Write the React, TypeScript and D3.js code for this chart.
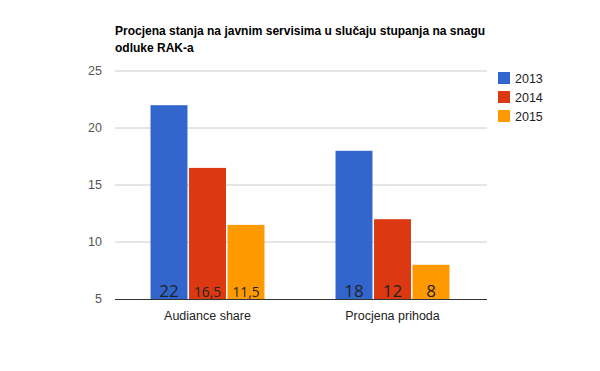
import React from 'react';
import * as d3 from 'd3';

const categories = ['Audiance share', 'Procjena prihoda'];
const years = ['2013', '2014', '2015'];
const values2013 = [22, 18];
const values2014 = [16.5, 12];
const values2015 = [11.5, 8];
const yTicks = [5, 10, 15, 20, 25];
const colors = ['#3366cc', '#dc3912', '#ff9900'];
const titleLines = [
  'Procjena stanja na javnim servisima u slučaju stupanja na snagu',
  'odluke RAK-a',
];

const width = 600;
const height = 371;
const plot = { left: 115, right: 485, top: 71, bottom: 299 };

const fmt = (v: number) => String(v).replace('.', ',');

const App: React.FC = () => {
  const series = [values2013, values2014, values2015];

  const x0 = d3.scaleBand<string>()
    .domain(categories)
    .range([plot.left, plot.right])
    .paddingInner(0.384)
    .paddingOuter(0.192);

  const x1 = d3.scaleBand<string>()
    .domain(years)
    .range([0, x0.bandwidth()])
    .paddingInner(0.04);

  const y = d3.scaleLinear().domain([5, 25]).range([plot.bottom, plot.top]);

  const font = 'Arial, "Liberation Sans", sans-serif';

  // labels shrink to fit the bar, like the original
  const labelSize = (s: string) => Math.min(17, (x1.bandwidth() - 4) / (s.length * 0.6));

  return (
    <svg width={width} height={height} style={{ display: 'block', position: 'absolute', left: 0, top: 0 }}>
      <rect width={width} height={height} fill="#fff" />

      {titleLines.map((t, i) => (
        <text key={i} x={plot.left} y={35 + i * 17} fontFamily={font} fontSize={12} fontWeight="bold" fill="#000">
          {t}
        </text>
      ))}

      {yTicks.map(t => (
        <g key={t}>
          {t !== 5 && (
            <line x1={plot.left} x2={plot.right + 2} y1={y(t)} y2={y(t)} stroke="#cccccc" strokeWidth={1} />
          )}
          <text x={102} y={y(t) + 4} textAnchor="end" fontFamily={font} fontSize={12.5} fill="#555">
            {t}
          </text>
        </g>
      ))}

      {categories.map((c, ci) => (
        <g key={c} transform={`translate(${x0(c)},0)`}>
          {years.map((yr, si) => {
            const v = series[si][ci];
            const bx = x1(yr)!;
            const label = fmt(v);
            return (
              <g key={yr}>
                <rect x={bx} y={y(v)} width={x1.bandwidth()} height={y(5) - y(v)} fill={colors[si]} />
                <text
                  x={bx + x1.bandwidth() / 2}
                  y={plot.bottom - 2}
                  textAnchor="middle"
                  fontFamily='"Open Sans", "DejaVu Sans", sans-serif'
                  fontSize={labelSize(label)}
                  fill="#222"
                >
                  {label}
                </text>
              </g>
            );
          })}
          <text
            x={x0.bandwidth() / 2}
            y={plot.bottom + 21}
            textAnchor="middle"
            fontFamily={font}
            fontSize={12.5}
            fill="#222"
          >
            {c}
          </text>
        </g>
      ))}

      <line x1={plot.left} x2={plot.right + 2} y1={plot.bottom + 0.5} y2={plot.bottom + 0.5} stroke="#333" strokeWidth={1} />

      {years.map((yr, i) => (
        <g key={yr} transform={`translate(498,${72 + i * 19})`}>
          <rect width={12} height={12} fill={colors[i]} />
          <text x={17} y={11} fontFamily={font} fontSize={12.5} fill="#222">
            {yr}
          </text>
        </g>
      ))}
    </svg>
  );
};

export default App;
